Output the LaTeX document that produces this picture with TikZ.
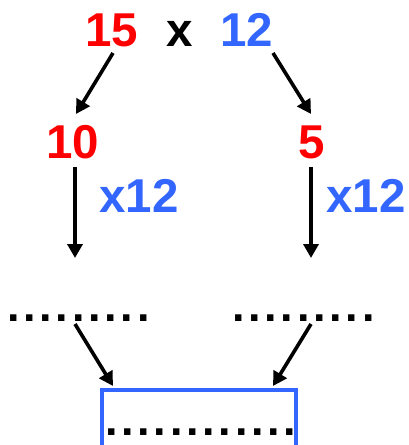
\documentclass[tikz,border=0pt]{standalone}
\usepackage{fontspec}
\setmainfont{Liberation Sans}
\usetikzlibrary{arrows.meta}
\definecolor{nred}{HTML}{FF0000}
\definecolor{nblue}{HTML}{3366FF}
\newfontfamily\dotfont[LetterSpace=8.3]{Liberation Sans}
\tikzset{
  num/.style={inner sep=0pt, anchor=base, font=\fontsize{47.5}{50}\selectfont\bfseries},
  dots/.style={inner sep=0pt, anchor=base west, font=\fontsize{45}{50}\selectfont\dotfont\bfseries},
  arr/.style={line width=3.6pt, -{Triangle[length=14pt,width=15pt]}},
}
\begin{document}
\begin{tikzpicture}[x=1pt,y=-1pt]
\useasboundingbox (0,0) rectangle (408,445);
\node[num, text=nred] (n15) at (112,46) {15};
\node[num] (times) at (180,46) {x};
\node[num, text=nblue] (n12) at (247,46) {12};
\node[num, text=nred] (n10) at (73,158) {10};
\node[num, text=nred] (n5) at (312,158) {5};
\node[num, text=nblue] (m1) at (139,212) {x12};
\node[num, text=nblue] (m2) at (366,212) {x12};
\node[dots] (d1) at (7,321) {.........};
\node[dots] (d2) at (232,321) {.........};
\node[dots] (d3) at (105,435) {............};
\coordinate (a1s) at (113,53); \coordinate (a1e) at (76,114);
\coordinate (a2s) at (273,53); \coordinate (a2e) at (311,114);
\coordinate (a3s) at (75,167); \coordinate (a3e) at (75,258);
\coordinate (a4s) at (311,167); \coordinate (a4e) at (311,258);
\coordinate (a5s) at (75,324); \coordinate (a5e) at (113,386);
\coordinate (a6s) at (311,324); \coordinate (a6e) at (273,386);
\draw[arr] (a1s) -- (a1e);
\draw[arr] (a2s) -- (a2e);
\draw[arr] (a3s) -- (a3e);
\draw[arr] (a4s) -- (a4e);
\draw[arr] (a5s) -- (a5e);
\draw[arr] (a6s) -- (a6e);
\coordinate (bl) at (102,450); \coordinate (br) at (296,450);
\draw[nblue, line width=3.5pt] (bl) |- (296,390) -- (br);
\end{tikzpicture}
\end{document}
